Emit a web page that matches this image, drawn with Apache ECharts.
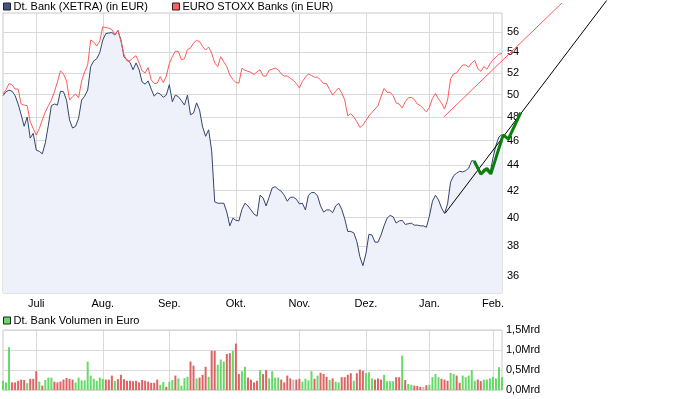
<!DOCTYPE html>
<html>
<head>
<meta charset="utf-8">
<script src="https://cdn.jsdelivr.net/npm/echarts@6/dist/echarts.min.js"></script>
<style>
  html, body { margin: 0; padding: 0; background: #fff; }
  #main { width: 680px; height: 399px; }
</style>
</head>
<body>
<div id="main"></div>
<script>
// Kurse 16.06.10 - 04.02.11, ein Wert pro Handelstag
var dbPrice = [
  49.9, 50.25, 50.4, 50.3, 49.9, 49.15, 48.2, 47.2, 48.0, 46.2,
  46.6, 45.2, 45.1, 44.9, 45.8, 47.3, 49.0, 49.15, 49.05, 50.3,
  50.25, 49.5, 47.75, 47.05, 47.2, 47.9, 49.5, 49.85, 50.4, 52.6,
  53.15, 53.35, 53.95, 55.2, 55.85, 55.9, 55.95, 55.7, 56.15, 55.2,
  53.55, 53.25, 53.0, 52.3, 52.95, 52.3, 51.15, 50.95, 51.25, 50.5,
  49.85, 50.15, 50.05, 49.75, 49.95, 50.9, 49.35, 49.95, 49.8, 49.45,
  49.05, 49.95, 48.2, 48.35, 49.25, 48.6, 47.15, 46.35, 46.9, 45.15,
  41.15, 41.05, 41.05, 41.05, 40.4, 39.4, 39.95, 39.8, 39.75, 40.6,
  41.05, 40.85, 40.55, 40.25, 40.1, 41.65, 41.45, 40.85, 41.5, 42.2,
  42.3, 42.1, 41.95, 41.65, 41.2, 41.5, 41.5, 41.35, 41.0, 41.05,
  40.55, 41.65, 41.85, 41.85, 41.6, 40.85, 40.4, 40.55, 40.55, 40.35,
  40.85, 41.05, 40.6, 39.9, 39.0, 39.0, 38.9, 38.3, 37.25, 36.65,
  37.45, 38.8, 38.75, 38.25, 38.25, 38.75, 39.4, 39.95, 40.15, 40.05,
  39.6, 39.75, 39.8, 39.5, 39.55, 39.6, 39.45, 39.45, 39.4, 39.4,
  39.3, 40.1, 41.2, 41.65, 41.3, 40.7, 40.3, 41.0, 42.65, 43.15,
  43.35, 43.5, 43.45, 43.55, 43.75, 44.35, 44.3, 43.6, 43.3, 43.7,
  43.5, 43.3, 44.55, 45.6, 46.3, 46.5
];
var stoxxBanks = [
  50.05, 50.45, 51.0, 50.9, 50.5, 50.5, 49.15, 49.05, 49.0, 47.6,
  47.0, 46.45, 47.0, 47.75, 48.45, 49.0, 49.5, 50.25, 51.15, 52.2,
  51.9, 51.25, 49.5, 49.8, 50.05, 49.7, 51.25, 52.1, 52.75, 55.2,
  55.0, 54.6, 55.1, 56.55, 56.45, 56.4, 56.25, 55.75, 56.15, 55.1,
  53.75, 53.15, 53.15, 53.45, 53.65, 52.95, 52.2, 52.0, 52.5, 51.35,
  51.0, 51.05, 51.65, 51.1, 51.7, 52.9, 53.55, 54.1, 54.05, 53.25,
  53.35, 54.25, 54.4, 54.9, 55.15, 55.05, 54.55, 54.2, 54.5, 53.9,
  52.95, 52.6, 53.55, 53.05, 52.6, 51.8, 51.4, 51.1, 51.05, 52.45,
  52.25, 52.15, 52.05, 51.85, 52.1, 52.3, 51.7, 51.7, 52.25, 52.35,
  52.45, 52.3, 51.9, 51.7, 51.7, 51.5, 51.3, 51.0, 50.6, 51.2,
  51.6, 51.9, 51.75, 51.6, 51.6, 51.35, 51.0, 51.0, 50.45, 49.95,
  50.3, 50.6, 50.15, 49.5, 48.1, 48.3, 48.0, 47.6, 47.1, 47.3,
  47.7, 48.1, 48.4, 48.7, 49.0, 49.8, 50.55, 50.2, 50.2, 49.9,
  49.25, 49.15, 48.8, 49.35, 49.7, 49.75, 49.55, 49.15, 49.0, 48.75,
  48.45, 48.85, 49.65, 50.1, 49.6, 49.25, 48.7, 49.5, 51.45, 51.9,
  52.0, 52.4, 52.75, 52.75, 52.55, 52.95, 53.2, 52.4, 52.15, 52.6,
  52.35, 52.85, 53.25, 53.5, 53.8, 53.85
];
// Volumen in Mrd Euro, Richtung: 1 = Plus, -1 = Minus, 0 = unveraendert
var volumeMrd = [
  0.23, 0.19, 1.07, 0.19, 0.19, 0.23, 0.26, 0.25, 0.17, 0.28,
  0.28, 0.47, 0.21, 0.11, 0.25, 0.31, 0.31, 0.21, 0.19, 0.21,
  0.26, 0.30, 0.28, 0.26, 0.19, 0.31, 0.24, 0.24, 0.71, 0.36,
  0.28, 0.23, 0.31, 0.28, 0.26, 0.26, 0.36, 0.23, 0.27, 0.38,
  0.27, 0.23, 0.23, 0.22, 0.23, 0.19, 0.25, 0.23, 0.21, 0.18,
  0.18, 0.26, 0.13, 0.20, 0.08, 0.21, 0.25, 0.36, 0.29, 0.11,
  0.30, 0.33, 0.71, 0.61, 0.29, 0.31, 0.38, 0.58, 0.33, 0.98,
  0.98, 0.63, 0.76, 0.71, 0.90, 0.92, 0.98, 1.16, 0.40, 0.47,
  0.58, 0.31, 0.26, 0.19, 0.23, 0.50, 0.40, 0.50, 0.29, 0.47,
  0.31, 0.31, 0.26, 0.19, 0.36, 0.29, 0.26, 0.26, 0.28, 0.21,
  0.28, 0.24, 0.47, 0.28, 0.36, 0.43, 0.40, 0.33, 0.25, 0.29,
  0.21, 0.19, 0.32, 0.32, 0.38, 0.42, 0.23, 0.42, 0.51, 0.48,
  0.42, 0.44, 0.29, 0.26, 0.29, 0.26, 0.38, 0.22, 0.22, 0.22,
  0.32, 0.32, 0.86, 0.25, 0.15, 0.13, 0.11, 0.10, 0.08, 0.08,
  0.12, 0.13, 0.32, 0.40, 0.32, 0.28, 0.26, 0.23, 0.43, 0.40,
  0.36, 0.18, 0.36, 0.32, 0.36, 0.50, 0.23, 0.26, 0.22, 0.26,
  0.26, 0.29, 0.33, 0.29, 0.57, 0.32
];
var volumeDir = [
  1, 1, 1, -1, -1, -1, -1, -1, 1, -1,
  -1, -1, 1, -1, 1, 1, 1, -1, -1, -1,
  -1, -1, -1, -1, 1, 1, 1, 1, 1, 1,
  1, 1, 1, 1, -1, -1, -1, 1, -1, -1,
  -1, -1, -1, -1, -1, -1, -1, -1, -1, -1,
  -1, -1, 1, 1, -1, 1, 1, -1, 1, 1,
  1, 1, -1, -1, 1, -1, -1, -1, 1, -1,
  -1, 1, 1, 1, -1, -1, 1, -1, -1, 1,
  1, -1, -1, -1, -1, 1, -1, -1, 1, 1,
  1, 1, -1, -1, -1, -1, 0, -1, -1, 1,
  1, 1, 1, -1, 1, -1, -1, -1, 1, -1,
  1, 1, -1, -1, -1, -1, 1, -1, -1, -1,
  1, 1, 1, -1, -1, -1, 1, 1, 1, 1,
  -1, -1, 1, -1, 1, 1, -1, -1, -1, 0,
  -1, 1, 1, 1, 1, -1, -1, -1, 1, 1,
  -1, -1, 1, 1, 1, 1, 1, -1, -1, 1,
  1, 1, 1, 1, 1, 1
];
// Monatsanfaenge (Index des Handelstags)
var monthStart = [11, 33, 55, 77, 98, 120, 141, 162];
var monthLabels = ['Juli', 'Aug.', 'Sep.', 'Okt.', 'Nov.', 'Dez.', 'Jan.', 'Feb.'];
var priceTicks = [36, 38, 40, 42, 44, 46, 48, 50, 52, 54, 56];
// Trendlinien und letzte Tage (Index, Kurs)
var trendDb = [[146.2, 40.31], [199.6, 59.3]];
var trendStoxx = [[145.7, 47.99], [184.8, 59.03]];
var lastDays = [[155.8, 44.32], [158.0, 43.27], [160.0, 43.74], [161.3, 43.29],
                [165.4, 46.47], [167.1, 46.11], [171.2, 48.39]];

var FONT = 'Liberation Sans, Arial, sans-serif';
var GRID_COLOR = '#d9d9d9';

// Kursachse logarithmisch
var Y_MIN = 34.88, Y_MAX = 57.97;
var PLOT_TOP = 13, PLOT_H = 280, PLOT_W = 499;
var lnPerPx = (Math.log(Y_MAX) - Math.log(Y_MIN)) / PLOT_H;
// Overlay-Raster fuer Linien, die ueber den Rand hinausragen
var OVER_MAX_X = 215;
var overTopLn = Math.log(Y_MIN) + (PLOT_TOP + PLOT_H) * lnPerPx;

function toLog(list) {
  return list.map(function (v, i) { return [i, Math.log(v)]; });
}
function pairsToLog(list) {
  return list.map(function (p) { return [p[0], Math.log(p[1])]; });
}

var chart = echarts.init(document.getElementById('main'));

var volColors = { '1': '#66d966', '-1': '#dc6464', '0': '#bbbbbb' };
var volData = volumeMrd.map(function (v, i) {
  return { value: [i, v], itemStyle: { color: volColors[String(volumeDir[i])] } };
});

var option = {
  animation: false,
  backgroundColor: '#fff',
  textStyle: { fontFamily: FONT },
  legend: [{
    left: 3, top: 1, padding: 0,
    itemWidth: 7, itemHeight: 7, itemGap: 24, icon: 'rect',
    textStyle: { fontSize: 11, color: '#000', fontFamily: FONT, padding: [0, 0, 0, -2] },
    data: [
      { name: 'Dt. Bank (XETRA) (in EUR)', itemStyle: { color: '#3f5586', borderColor: '#222', borderWidth: 1 } },
      { name: 'EURO STOXX Banks (in EUR)', itemStyle: { color: '#ff5f5f', borderColor: '#222', borderWidth: 1 } }
    ]
  }, {
    left: 3, top: 315, padding: 0,
    itemWidth: 7, itemHeight: 7, icon: 'rect',
    textStyle: { fontSize: 11, color: '#000', fontFamily: FONT, padding: [0, 0, 0, -2] },
    data: [
      { name: 'Dt. Bank Volumen in Euro', itemStyle: { color: '#66d966', borderColor: '#222', borderWidth: 1 } }
    ]
  }],
  graphic: [{
    type: 'text', left: 8, top: 281,
    style: { text: '16.06.10 - 04.02.11', fill: '#9a9a9a', font: '11px ' + FONT }
  }],
  grid: [
    { left: 3, top: PLOT_TOP, width: PLOT_W, height: PLOT_H, show: true, borderColor: '#c8c8c8', borderWidth: 1 },
    { left: 3, top: 330, width: PLOT_W, height: 60, show: true, borderColor: '#c8c8c8', borderWidth: 1 },
    { left: 3, top: 0, width: PLOT_W * OVER_MAX_X / 165, height: PLOT_TOP + PLOT_H }
  ],
  xAxis: [{
    type: 'value', gridIndex: 0, min: 0, max: 165,
    axisLine: { show: false },
    axisTick: { show: false, customValues: monthStart },
    splitLine: { show: true, lineStyle: { color: GRID_COLOR } },
    axisLabel: {
      customValues: monthStart, margin: 5, fontSize: 11, color: '#000', fontFamily: FONT,
      formatter: function (v) { return monthLabels[monthStart.indexOf(Math.round(v))] || ''; }
    }
  }, {
    type: 'value', gridIndex: 1, min: 0, max: 165,
    axisLine: { show: false },
    axisTick: { show: false, customValues: monthStart },
    splitLine: { show: true, lineStyle: { color: GRID_COLOR } },
    axisLabel: { show: false }
  }, {
    type: 'value', gridIndex: 2, min: 0, max: OVER_MAX_X, show: false
  }],
  yAxis: [{
    type: 'value', gridIndex: 0, position: 'right',
    min: Math.log(Y_MIN), max: Math.log(Y_MAX),
    axisLine: { show: false },
    axisTick: { show: false, customValues: priceTicks.map(Math.log) },
    splitLine: { show: true, lineStyle: { color: GRID_COLOR } },
    axisLabel: {
      customValues: priceTicks.map(Math.log), margin: 5, fontSize: 11, color: '#000', fontFamily: FONT,
      formatter: function (v) { return String(Math.round(Math.exp(v))); }
    }
  }, {
    type: 'value', gridIndex: 1, position: 'right',
    min: 0, max: 1.5, interval: 0.5,
    axisLine: { show: false },
    axisTick: { show: false },
    splitLine: { show: true, lineStyle: { color: GRID_COLOR } },
    axisLabel: {
      margin: 4, fontSize: 11, color: '#000', fontFamily: FONT,
      formatter: function (v) { return v.toFixed(1).replace('.', ',') + 'Mrd'; }
    }
  }, {
    type: 'value', gridIndex: 2, min: Math.log(Y_MIN), max: overTopLn, show: false
  }],
  series: [{
    name: 'Dt. Bank (XETRA) (in EUR)', type: 'line',
    xAxisIndex: 0, yAxisIndex: 0, z: 2,
    data: toLog(dbPrice), showSymbol: false,
    lineStyle: { color: '#34446f', width: 1 },
    itemStyle: { color: '#3f5586' },
    areaStyle: { color: '#eef1f9', opacity: 1, origin: 'start' }
  }, {
    name: 'EURO STOXX Banks (in EUR)', type: 'line',
    xAxisIndex: 0, yAxisIndex: 0, z: 3,
    data: toLog(stoxxBanks), showSymbol: false,
    lineStyle: { color: '#ff5a5a', width: 1 },
    itemStyle: { color: '#ff5f5f' }
  }, {
    name: 'Trend Dt. Bank', type: 'line',
    xAxisIndex: 2, yAxisIndex: 2, z: 4, clip: false,
    data: pairsToLog(trendDb), showSymbol: false,
    lineStyle: { color: '#000', width: 1 }
  }, {
    name: 'Trend STOXX', type: 'line',
    xAxisIndex: 2, yAxisIndex: 2, z: 4, clip: false,
    data: pairsToLog(trendStoxx), showSymbol: false,
    lineStyle: { color: '#ff5a5a', width: 1 }
  }, {
    name: 'Letzte Tage', type: 'line',
    xAxisIndex: 2, yAxisIndex: 2, z: 5, clip: false,
    data: pairsToLog(lastDays), showSymbol: false,
    lineStyle: { color: '#0a800a', width: 3 }
  }, {
    name: 'Dt. Bank Volumen in Euro', type: 'bar',
    xAxisIndex: 1, yAxisIndex: 1,
    barWidth: 2, data: volData,
    itemStyle: { color: '#66d966' }
  }]
};

chart.setOption(option);
</script>
</body>
</html>
